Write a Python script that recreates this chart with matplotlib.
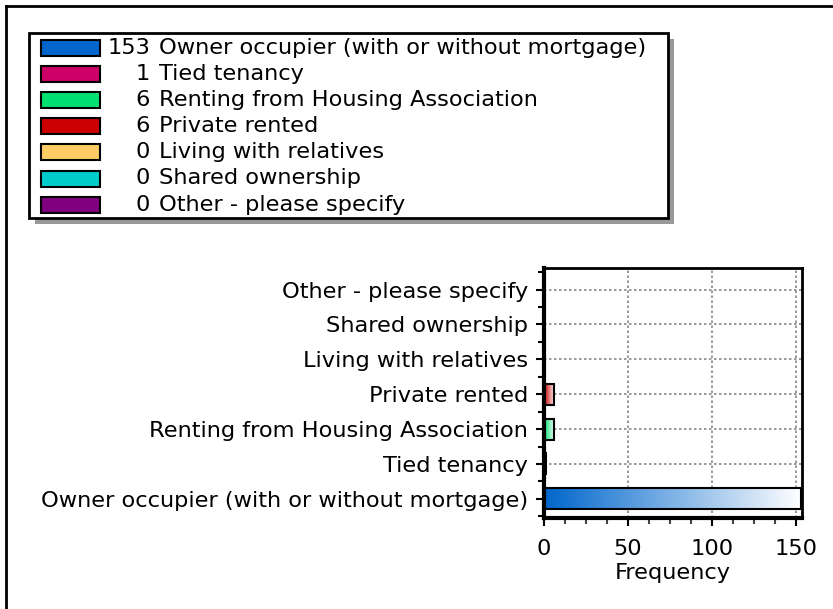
import numpy as np
import matplotlib
matplotlib.use("Agg")
import matplotlib.pyplot as plt
from matplotlib.colors import LinearSegmentedColormap
from matplotlib.patches import Rectangle
from matplotlib.lines import Line2D
from matplotlib.ticker import MultipleLocator

## Data
categories = ["Owner occupier (with or without mortgage)", "Tied tenancy",
              "Renting from Housing Association", "Private rented",
              "Living with relatives", "Shared ownership", "Other - please specify"]
counts = [153, 1, 6, 6, 0, 0, 0]
colors = ["#0066cc", "#cc0066", "#00e070", "#cc0000", "#ffcc66", "#00cccc", "#800080"]

W, H = 833, 609
fig = plt.figure(figsize=(W / 100, H / 100), dpi=100)
plt.rcParams['font.family'] = 'DejaVu Sans'
FS = 16.2

def fx(px):
    return px / W

def fy(py):
    return 1 - py / H

# outer frame (left and top edges visible)
fig.add_artist(Line2D([fx(6), fx(6)], [0, fy(6)], color='black', lw=2))
fig.add_artist(Line2D([fx(6), 1], [fy(6), fy(6)], color='black', lw=2))

## Bar chart
ax = fig.add_axes([fx(544), fy(518), fx(802) - fx(544), fy(268) - fy(518)])
ypos = np.arange(len(categories))
bh = 0.6
for y, v, c in zip(ypos, counts, colors):
    cmap = LinearSegmentedColormap.from_list('g', [c, 'white'])
    if v > 0:
        grad = np.linspace(0, 1, 256).reshape(1, -1)
        ax.imshow(grad, extent=[0, v, y - bh / 2, y + bh / 2], aspect='auto',
                  cmap=cmap, zorder=2, interpolation='bilinear')
        ax.barh(y, v, height=bh, fill=False, edgecolor='black', lw=1.5, zorder=3)
    else:
        ax.barh(y, 0.6, height=bh, color=c, zorder=2)

ax.set_xlim(0, 153.5)
ax.set_ylim(-0.55, 6.62)
ax.set_aspect('auto')
ax.set_yticks(ypos)
ax.set_yticklabels(categories, fontsize=FS)
ax.xaxis.set_major_locator(MultipleLocator(50))
ax.xaxis.set_minor_locator(MultipleLocator(12.5))
ax.yaxis.set_minor_locator(MultipleLocator(0.5))
ax.tick_params(axis='x', labelsize=FS, length=6, width=1.5, colors='black', pad=9)
ax.tick_params(axis='x', which='minor', length=4, width=1.5, color='#444444')
ax.tick_params(axis='y', length=6, width=1.5, pad=5.5)
ax.tick_params(axis='y', which='minor', length=4, width=1.5)
ax.set_xlabel('Frequency', fontsize=FS, labelpad=3)
ax.grid(True, which='major', linestyle=(0, (1.5, 1.5)), color='#888888', lw=1.2, zorder=1)
ax.set_axisbelow(True)
ax.spines['left'].set_linewidth(3)
ax.spines['bottom'].set_linewidth(3)
ax.spines['top'].set_linewidth(2)
ax.spines['right'].set_linewidth(2)

## Legend box with shadow
lx0, ly0, lx1, ly1 = 29, 33, 668, 218
fig.add_artist(Rectangle((fx(lx0 + 6), fy(ly1 + 6)), fx(lx1 - lx0), fy(ly0) - fy(ly1),
                         facecolor='#999999', edgecolor='none', zorder=1))
fig.add_artist(Rectangle((fx(lx0), fy(ly1)), fx(lx1 - lx0), fy(ly0) - fy(ly1),
                         facecolor='white', edgecolor='black', lw=2, zorder=2))
for i, (lab, v, c) in enumerate(zip(categories, counts, colors)):
    cy = 48 + i * 26.1
    fig.add_artist(Rectangle((fx(41), fy(cy + 8)), fx(59), fy(cy - 8) - fy(cy + 8),
                             facecolor=c, edgecolor='black', lw=1.5, zorder=3))
    fig.text(fx(150), fy(cy), str(v), ha='right', va='center', fontsize=FS, zorder=4)
    fig.text(fx(159), fy(cy), lab, ha='left', va='center', fontsize=FS, zorder=4)

fig.savefig('out.png', dpi=100)
